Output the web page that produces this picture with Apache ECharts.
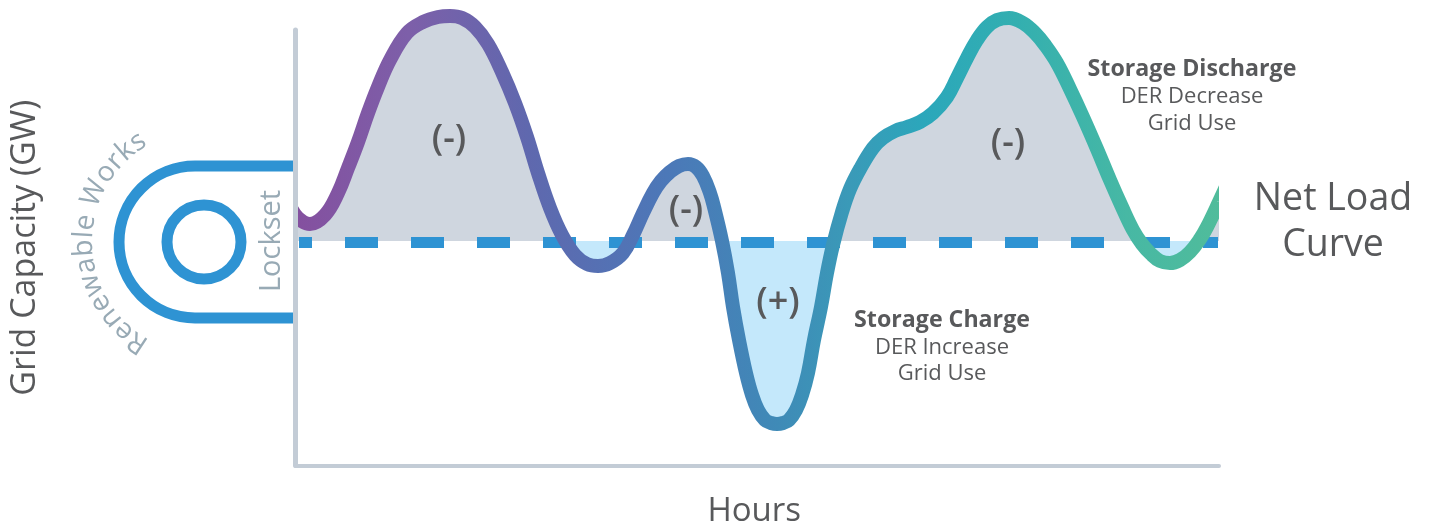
<!DOCTYPE html>
<html>
<head>
<meta charset="utf-8">
<title>Net Load Curve</title>
<script src="https://cdn.jsdelivr.net/npm/echarts@6/dist/echarts.min.js"></script>
<style>
	html, body { margin: 0; padding: 0; background: #fff; }
	#main { width: 1429px; height: 525px; }
</style>
</head>
<body>
<div id="main"></div>
<script>
	// no scale printed so units are arbitrary
	// first and last points sit past the axis range, the grid cuts them off
	const hours = [-8, 0, 12, 27, 40, 50, 60, 70, 80, 92, 109, 125, 140, 152, 164, 177, 190, 204, 217, 229, 240, 252, 264, 277, 289, 300, 312, 325, 335, 345, 355, 363, 372, 381, 390, 398, 405, 412, 416, 424, 430, 435, 441, 448, 454, 460, 467, 473, 479, 485, 491, 498, 504, 510, 516, 523, 529, 535, 544, 552, 562, 575, 585, 597, 609, 622, 635, 649, 659, 669, 679, 689, 699, 711, 725, 737, 747, 759, 772, 785, 799, 812, 824, 835, 844, 853, 862, 872, 882, 892, 902, 909, 921, 932];
	const netLoad = [35, 23, 17, 26, 48, 73, 99, 128, 154, 181, 208, 219, 224, 225, 223, 214, 197, 169, 138, 104, 68, 33, 6, -14, -23, -25, -22, -12, 6, 28, 48, 60, 69, 75, 77, 74, 65, 48, 34, 0, -32, -66, -99, -132, -154, -169, -179, -182, -183, -182, -179, -169, -154, -132, -99, -66, -32, -4, 29, 52, 72, 93, 103, 110, 114, 119, 128, 144, 163, 183, 201, 214, 221, 223, 218, 208, 196, 178, 152, 124, 92, 61, 34, 11, -3, -13, -20, -22, -19, -11, 2, 14, 39, 63];
	const capacityLine = [[0, -1.5], [921, -1.5]];

	const fontName = '"Open Sans", sans-serif';
	const textColor = '#58595b';
	const mutedColor = '#98aab5';
	const blue = '#2e93d3';
	const axisColor = '#c3ccd6';
	const curveWidth = 14;

	let chartDom = document.getElementById('main');
	let myChart = echarts.init(chartDom, null, { renderer: 'canvas' });

	let points = hours.map((h, i) => [h, netLoad[i]]);

	// colour runs left to right along the whole curve
	let curveColor = new echarts.graphic.LinearGradient(298, 0, 1219, 0, [
		{ offset: 0, color: '#84509f' },
		{ offset: 0.12, color: '#7d5fa9' },
		{ offset: 0.25, color: '#5f68ae' },
		{ offset: 0.4, color: '#4c78b8' },
		{ offset: 0.52, color: '#3f8ab7' },
		{ offset: 0.6, color: '#3a9ab8' },
		{ offset: 0.68, color: '#2ba7bb' },
		{ offset: 0.78, color: '#33afb0' },
		{ offset: 0.9, color: '#47b8a4' },
		{ offset: 1, color: '#50bc9b' }
	], true);

	// grey above the zero line, light blue under it
	let areaColor = new echarts.graphic.LinearGradient(0, 0, 0, 465, [
		{ offset: 0, color: '#cfd6df' },
		{ offset: 241 / 465, color: '#cfd6df' },
		{ offset: 241 / 465, color: '#c4e8fb' },
		{ offset: 1, color: '#c4e8fb' }
	], true);

	function txt(text, x, y, size, color, weight, rotation) {
		return {
			type: 'text',
			x: x,
			y: y,
			rotation: rotation || 0,
			silent: true,
			z: 20,
			style: {
				text: text,
				fill: color,
				font: (weight || 'normal') + ' ' + size + 'px ' + fontName,
				align: 'center',
				verticalAlign: 'middle'
			}
		};
	}

	// curved caption, one text per letter around the lockset circle
	function arcText(text, cx, cy, r, fromDeg, toDeg, size, color) {
		let ctx = document.createElement('canvas').getContext('2d');
		ctx.font = size + 'px ' + fontName;
		let total = ctx.measureText(text).width;
		let run = 0;
		let out = [];
		for (let i = 0; i < text.length; i++) {
			let w = ctx.measureText(text[i]).width;
			let t = (run + w / 2) / total;
			let a = (fromDeg + (toDeg - fromDeg) * t) * Math.PI / 180;
			run += w;
			if (text[i] === ' ') continue;
			out.push(txt(text[i], cx - r * Math.cos(a), cy - r * Math.sin(a), size, color, '500', Math.PI / 2 - a));
		}
		return out;
	}

	let lockStyle = { stroke: blue, fill: 'none', lineWidth: 11 };

	let option = {
		animation: false,
		grid: [
			{ left: 295.5, top: 30, width: 923.5, height: 435.5, outerBoundsMode: 'none' },
			// line clip rect grows by half the line width, so inset to cut at 298 and 1219
			{ left: 298 + curveWidth / 2, top: 0, width: 921 - curveWidth, height: 465, outerBoundsMode: 'none' }
		],
		xAxis: [
			{
				type: 'value',
				gridIndex: 0,
				min: 0,
				max: 1,
				name: 'Hours',
				nameLocation: 'middle',
				nameGap: 30,
				nameTextStyle: { color: textColor, fontSize: 33, fontFamily: fontName, verticalAlign: 'top', padding: [0, 6, 0, 0] },
				axisLine: { show: true, onZero: false, lineStyle: { color: axisColor, width: 4 } },
				axisTick: { show: false },
				axisLabel: { show: false },
				splitLine: { show: false }
			},
			{ type: 'value', gridIndex: 1, min: curveWidth / 2, max: 921 - curveWidth / 2, show: false }
		],
		yAxis: [
			{
				type: 'value',
				gridIndex: 0,
				min: 0,
				max: 1,
				name: 'Grid Capacity (GW)',
				nameLocation: 'middle',
				nameGap: 270,
				nameTextStyle: { color: textColor, fontSize: 34, fontFamily: fontName, verticalAlign: 'middle' },
				axisLine: { show: true, onZero: false, lineStyle: { color: axisColor, width: 5 } },
				axisTick: { show: false },
				axisLabel: { show: false },
				splitLine: { show: false }
			},
			{ type: 'value', gridIndex: 1, min: -224, max: 241, show: false }
		],
		series: [
			{
				name: 'Net load area',
				type: 'line',
				xAxisIndex: 1,
				yAxisIndex: 1,
				data: points,
				smooth: 0.4,
				symbol: 'none',
				z: 1,
				lineStyle: { opacity: 0, width: curveWidth },
				areaStyle: { color: areaColor, opacity: 1 }
			},
			{
				name: 'Grid capacity',
				type: 'line',
				xAxisIndex: 1,
				yAxisIndex: 1,
				data: capacityLine,
				symbol: 'none',
				clip: false,
				z: 2,
				lineStyle: { color: blue, width: 11, type: [33, 33], dashOffset: 19, cap: 'butt' }
			},
			{
				name: 'Net load',
				type: 'line',
				xAxisIndex: 1,
				yAxisIndex: 1,
				data: points,
				smooth: 0.4,
				symbol: 'none',
				z: 3,
				lineStyle: { color: curveColor, width: curveWidth, cap: 'butt' }
			}
		],
		graphic: {
			elements: [
				{ type: 'line', silent: true, shape: { x1: 293, y1: 166, x2: 195, y2: 166 }, style: lockStyle },
				{ type: 'line', silent: true, shape: { x1: 293, y1: 318, x2: 195, y2: 318 }, style: lockStyle },
				{ type: 'arc', silent: true, shape: { cx: 195, cy: 242, r: 76, startAngle: Math.PI / 2, endAngle: Math.PI * 1.5, clockwise: true }, style: lockStyle },
				{ type: 'circle', silent: true, shape: { cx: 204, cy: 242, r: 37 }, style: lockStyle },
				txt('Lockset', 272, 241, 29, mutedColor, '500', Math.PI / 2),
				...arcText('Renewable Works', 204, 242, 120, -61, 60, 28, mutedColor),
				txt('(-)', 449, 140, 36, textColor, '600'),
				txt('(-)', 686, 211, 36, textColor, '600'),
				txt('(-)', 1008, 144, 36, textColor, '600'),
				txt('(+)', 778, 303, 36, textColor, '600'),
				txt('Storage Discharge', 1192, 69, 23.2, textColor, 'bold'),
				txt('DER Decrease', 1192, 97, 22, textColor),
				txt('Grid Use', 1192, 124, 22, textColor),
				txt('Storage Charge', 942, 320, 23.2, textColor, 'bold'),
				txt('DER Increase', 942, 348, 22, textColor),
				txt('Grid Use', 942, 374, 22, textColor),
				txt('Net Load', 1333, 199, 37.5, textColor),
				txt('Curve', 1333, 245, 37.5, textColor)
			]
		}
	};

	myChart.setOption(option);
</script>
</body>
</html>
